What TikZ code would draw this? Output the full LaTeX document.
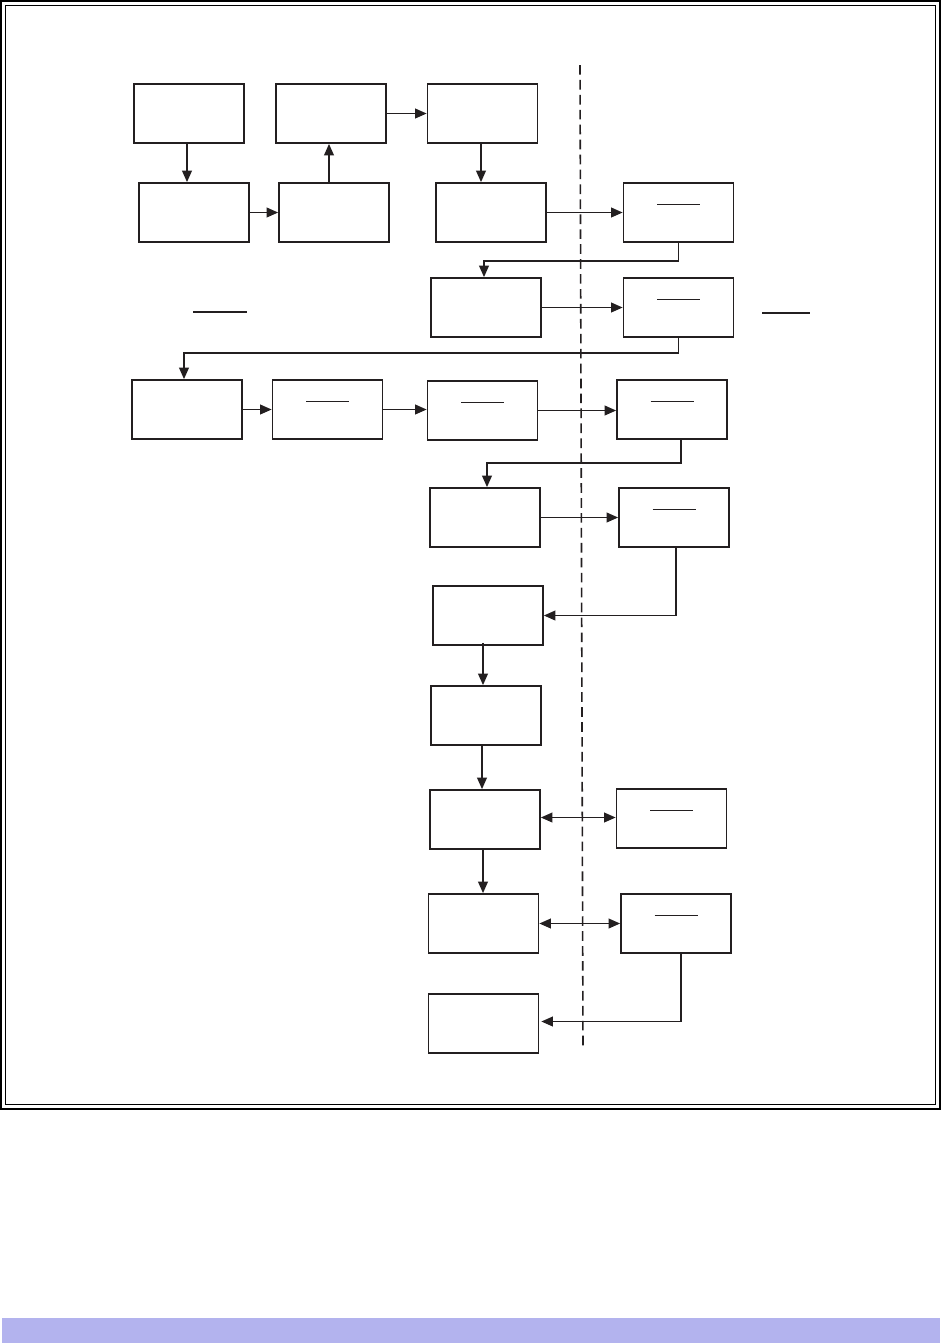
\documentclass[tikz,border=0pt]{standalone}
\usetikzlibrary{arrows.meta,calc}
\definecolor{barblue}{RGB}{179,179,238}
\definecolor{ink}{RGB}{35,31,32}
\tikzset{
  stepbox/.style={draw=ink, line width=1pt, minimum width=2.2cm, minimum height=1.18cm, inner sep=0pt},
  barbox/.style={stepbox, path picture={\draw[ink, line width=0.75pt] ([shift={(-21.5,21.5)}]path picture bounding box.north) -- ++(43,0);}},
  conn/.style={draw=ink, line width=0.9pt, -{Triangle[length=6.5pt,width=5.5pt]}},
  dconn/.style={draw=ink, line width=0.9pt, {Triangle[length=6.5pt,width=5.5pt]}-{Triangle[length=6.5pt,width=5.5pt]}},
  plain/.style={draw=ink, line width=0.9pt}
}
\begin{document}
\begin{tikzpicture}[x=0.02cm, y=-0.02cm]
\useasboundingbox (0,0) rectangle (942,1343);
\fill[white] (0,0) rectangle (942,1343);
% frame
\draw[black, line width=0.85pt] (0.8,0.8) rectangle (940,1109);
\draw[black, line width=0.7pt] (5.5,5.5) rectangle (935.5,1104.5);
% bottom bar
\fill[barblue] (2,1317.5) rectangle (940,1343);
% dashed divider
\coordinate (dtop) at (580,65);
\coordinate (dbot) at (583,1050);
\draw[ink, line width=0.9pt, dash pattern=on 5.5pt off 3pt] (dtop) -- (dbot);
% boxes
\node[stepbox] (A) at (189,113.5) {};
\node[stepbox] (B) at (331,113.5) {};
\node[stepbox] (C) at (482.5,113.5) {};
\node[stepbox] (D) at (194,212.5) {};
\node[stepbox] (E) at (334,212.5) {};
\node[stepbox] (F) at (491,212.5) {};
\node[barbox] (G) at (678.5,212.5) {};
\node[stepbox] (H) at (486,307.5) {};
\node[barbox] (I) at (678.5,307.5) {};
\node[stepbox] (J) at (187,409.5) {};
\node[barbox] (K) at (327.5,409.5) {};
\node[barbox] (L) at (482.5,410.5) {};
\node[barbox] (M) at (672,409.5) {};
\node[stepbox] (N) at (485,517.5) {};
\node[barbox] (O) at (674,517.5) {};
\node[stepbox] (P) at (488,615.5) {};
\node[stepbox] (Q) at (486,715.5) {};
\node[stepbox] (R) at (485,819.5) {};
\node[barbox] (S) at (671.5,818.5) {};
\node[stepbox] (T) at (483.5,923.5) {};
\node[barbox] (U) at (676,923.5) {};
\node[stepbox] (V) at (483.5,1023.5) {};
% standalone short lines
\coordinate (l1a) at (193,312); \coordinate (l1b) at (247,312);
\coordinate (l2a) at (762,313); \coordinate (l2b) at (810,313);
\draw[ink, line width=0.75pt] (l1a) -- (l1b);
\draw[ink, line width=0.75pt] (l2a) -- (l2b);
% connectors
\draw[conn] ($(A.south)+(-2,0)$) -- ($(A.south |- D.north)+(-2,0)$);
\draw[conn] (D.east) -- (E.west);
\draw[conn] ($(E.north)+(-5,0)$) -- ($(B.south)+(-2,0)$);
\draw[conn] (B.east) -- (C.west);
\draw[conn] ($(C.south)+(-1.5,0)$) -- ($(C.south |- F.north)+(-1.5,0)$);
\draw[conn] (F.east) -- (G.west);
\draw[conn] (G.south) -- ++(0,18) -| ($(H.north)+(-2,0)$);
\draw[conn] (H.east) -- (I.west);
\draw[conn] (I.south) -- ++(0,15) -| ($(J.north)+(-3,0)$);
\draw[conn] (J.east) -- (K.west);
\draw[conn] (K.east) -- (K.east -| L.west);
\draw[conn] (L.east) -- (L.east -| M.west);
\draw[conn] ($(M.south)+(9,0)$) -- ++(0,23) -| ($(N.north)+(2,0)$);
\draw[conn] (N.east) -- (O.west);
\draw[conn] ($(O.south)+(2,0)$) |- (P.east);
\draw[conn] ($(P.south)+(-5,-3)$) -- ($(P.south |- Q.north)+(-5,0)$);
\draw[conn] ($(Q.south)+(-4,0)$) -- ($(Q.south |- R.north)+(-4,0)$);
\draw[dconn] ($(R.east)+(0,-2)$) -- ($(R.east -| S.west)+(0,-2)$);
\draw[conn] ($(R.south)+(-2,0)$) -- ($(R.south |- T.north)+(-2,0)$);
\draw[dconn] (T.east) -- (U.west);
\draw[conn] ($(U.south)+(5,0)$) |- ($(V.east)+(2,-2)$);
\end{tikzpicture}
\end{document}
